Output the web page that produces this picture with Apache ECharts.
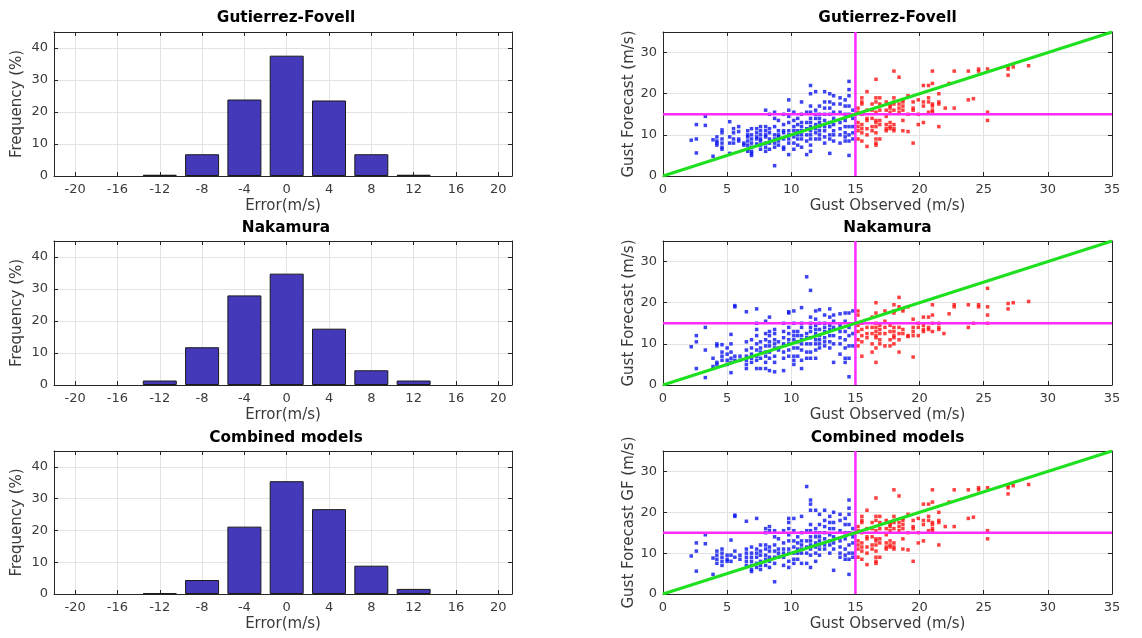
<!DOCTYPE html>
<html><head><meta charset="utf-8">
<script src="https://cdn.jsdelivr.net/npm/echarts@6/dist/echarts.min.js"></script>
<style>html,body{margin:0;padding:0;background:#fff}#c{width:1142px;height:638px}</style>
</head><body><div id="c"></div>
<script>
// ---------- data ----------
const errTicks = [-20,-16,-12,-8,-4,0,4,8,12,16,20];
const binCenters = [-12,-8,-4,0,4,8,12];
const gfFreq   = [0.4, 6.8, 23.9, 37.6, 23.6, 6.8, 0.4];
const nakFreq  = [1.4, 11.8, 28.0, 34.8, 17.6, 4.6, 1.4];
const combFreq = [0.3, 4.4, 21.2, 35.5, 26.7, 8.9, 1.6];
const panelTitles = ['Gutierrez-Fovell','Nakamura','Combined models'];
const scatterYNames = ['Gust Forecast (m/s)','Gust Forecast (m/s)','Gust Forecast GF (m/s)'];
const threshold = 15;
const oneToOne = [0, 35];

// scatter columns: [observed, [forecasts...]]
const gfBlue = [
 [2.2,[8.7]],[2.6,[12.5,9,5.6]],[3.3,[14.5,12.3]],[3.9,[8.8,4.8]],[4.2,[9.5,8.5,8,7.5]],
 [4.6,[11.2,10.5,9,8,7,6.5]],[5.2,[13.2,9.5,8,5.5]],[5.5,[11.5,10.5,9,8]],[5.9,[12,10.8,9,8.5]],
 [6.3,[8,7.5]],[6.6,[11,10,9.5,8.5,7.5,6.5,6]],[6.9,[11.5,10,9,8,7,6,5.5,5]],[7.3,[11.5,10.5,9.5,9,7.8]],
 [7.6,[12,11,10,9,8.5,7.5,6.5]],[8.0,[16,12,11,10,9.5,8,7,6]],[8.3,[15,11.5,10.5,9,8,6.5]],
 [8.7,[15.5,14,12,10,9,8,7,2.5]],[9.0,[13.5,11,10,9.5,8.5,7.5]],[9.4,[15,12.5,11,10.5,9,7,6.5]],
 [9.8,[18.5,16,14.5,13,11,10,9,8,5.2]],[10.2,[15.5,13.5,12,11,9.5,8,6.5]],[10.5,[14,12.5,11,10,9,7.5]],
 [10.8,[18,15,13,12,11,10,9,7]],[11.2,[15.5,13,11.5,10,8.5,5.2]],[11.5,[22,20,17,15.5,14,13,12,11,10,9,7.5,6]],
 [11.9,[20.5,16,15,14,12.5,11.5,10.5,9]],[12.2,[17,15,14,13,12,11,10,9]],[12.6,[20.5,18,16.5,15,13.5,12,11,9.5,8]],
 [13.0,[20,18,16.5,15,13,12,10,9,5.5]],[13.3,[19.5,17.5,15.5,14,12.5,11,10,8.5]],[13.8,[19,17.5,15.5,13,11.5,10,8]],
 [14.2,[18.5,17,15,13.5,12,10.5,9.5,8.5]],[14.5,[23,21,19.5,17,15,12,10,8.5,5]],[14.8,[16,14,12,10.5,9]]
];
const gfRed = [
 [15.2,[16.5,15.5,13,12,11,9]],[15.5,[19,18,17.5,15,12.5,11.5,10.5,8.5]],[15.9,[20.5,16,14,13.5,11.5,10,7.2]],
 [16.3,[17.5,16,14,12,11]],[16.6,[23.5,19,18,15.5,13.5,13,12,10.5,9,8,7.5]],[16.9,[19,17.5,16,13.5,12.5,9]],
 [17.4,[18,16,14.5,12.5,11.5,11]],[17.7,[17.5,17,16.5,15.5,13,12,11.5]],[18.0,[25.5,19,18,17.5,16,12.5,11.5,11]],
 [18.4,[24,17.5,16.5,15.5]],[18.7,[18.5,18,17,16,13.5,11]],[19.1,[19.5,15,10.8]],[19.5,[18,16.5,16,8]],
 [19.9,[18.5,15,12.5]],[20.3,[22,18,17,13]],[20.7,[22,19,18,15.5]],[21.0,[25.5,22.5,17.5,17,16,15.5]],
 [21.5,[20,18,17.5,12]],[22.0,[16.5]],[22.3,[22.5]],[22.7,[25.5,16.5]],[23.8,[25.5,18.5]],[24.2,[18.8]],
 [24.6,[26,25.5]],[25.3,[26,15.5,13.5]],[26.9,[26.5,26,24.5]],[27.3,[26.5]],[28.5,[26.8]]
];
const nakBlue = [
 [2.2,[9.3]],[2.6,[12,10.5,4]],[3.3,[14,8.5,1.8]],[3.9,[6.5,4.5]],[4.2,[10,9.5,5.5,5]],[4.6,[9.8,8,7,6]],
 [5.0,[9,7.5,6,5]],[5.3,[12.3,10,8,6.5,5.5,3]],[5.6,[19.3,19,7,6]],[6.0,[7,6]],[6.5,[17.8,10.5,8.5,7,6,5,4]],
 [6.9,[11,9,7.5,6.5,5.5]],[7.3,[18.5,15,13.5,12,10,8.5,7,6,4]],[7.6,[10.5,9,8,6.5,4]],[8.0,[15.5,12.5,11,9.5,8,7,5.5,4]],
 [8.3,[16.5,13,12,10.5,9.5,8,6.5,3.5]],[8.7,[13.5,12.5,11,10,9,7,5.5,3.2]],[9.0,[10.5,9,8.5]],
 [9.4,[15,13,11.5,10,8,6.5,3.5]],[9.8,[17.8,17.5,14,12.5,11,10,8.5,7]],[10.2,[18,15,13,12,11,9,7,6,5]],
 [10.5,[13,12,10.5,9,7]],[10.8,[18.8,15,14,12,11,10,8.5,6,4]],[11.2,[26.3,12.5,11.5,10,8,6.5]],
 [11.5,[23,16.5,15,14,13,11.5,10,8,6.5]],[11.9,[18,16,14.5,13.5,12.5,11,10,8.5,6.5]],[12.2,[18.3,15,13.5,12,11,10,9]],
 [12.6,[17,15,14,13,11.5,10.5,9.5]],[13.0,[18.5,16.5,14.5,13.5,12,10.5,9]],[13.3,[17,15.5,14,12,10,5.5]],
 [13.8,[17.3,14.5,13,11.5,10,7.5]],[14.2,[17.5,15.5,13,11,9,6.5,5.5]],[14.5,[17.5,14,12,9.5,6.5,2]],[14.8,[18,12.5,9.5]]
];
const nakRed = [
 [15.2,[18,17,14.5,13,11,9.5]],[15.5,[15,13.5,12,10.5,7]],[15.9,[14,12.5,11.5]],[16.3,[16.5,14,12.5,10,8]],
 [16.6,[20,17.5,15,14,13,12,11.5,9,5.5]],[16.9,[14.5,13.5,12.5,11,10]],[17.3,[18,15.5,14,12.5,9.5]],
 [17.7,[14.5,13,11,9.5]],[18.0,[19.5,18,17.5,14,13,12,11.5,10]],[18.4,[21.3,19,14,12.5,11,8]],
 [18.7,[18.5,18,13.5,12.5]],[19.1,[19,12,11.8]],[19.5,[16,14,13,12,6.8]],[19.9,[15,14,12]],
 [20.3,[16.5,14.5,13.5,13]],[20.7,[16.5,14,13.5]],[21.0,[19.5,17,15,13]],[21.5,[15,14,13.5]],[21.9,[12.5]],
 [22.3,[17.3]],[22.7,[19.5,19]],[23.8,[19.5,14]],[24.2,[15]],[24.6,[19.5,19]],[25.3,[23.5,19,17,15]],
 [26.9,[19.8,18.5]],[27.3,[20]],[28.5,[20.3]]
];
const combBlue = [
 [2.2,[9.3]],[2.6,[12.5,10.5,5.6]],[3.3,[14.5,12.3]],[3.9,[8.8,4.8]],[4.2,[10.5,9.5,8.5,7.5]],[4.6,[11,10,9,8,7]],
 [5.0,[9.5,8.5,8]],[5.3,[13.2,9.5,8]],[5.6,[19.3,19,10.5,9]],[6.0,[9.5,8.5]],[6.5,[17.8,11,10,9,8,7]],
 [6.9,[11.5,10,9,8,7,6,5.5]],[7.3,[18.5,11,10,9,7.5,6.5]],[7.6,[12,10.5,9.5,8,7,6]],[8.0,[16,15,12,11,9.5,8.5,7]],
 [8.3,[16.5,15.5,11.5,10.5,9,8,6.5]],[8.7,[15.5,14,12,10.5,9,7.5,3]],[9.0,[13.5,11,10,9]],[9.4,[15.5,12.5,11,10,9,7]],
 [9.8,[18.5,17.5,16,14.5,13,11,10,8,6.5]],[10.2,[18.5,15.5,13,11.5,10,8.5,7.5]],[10.5,[14,12.5,11,10,8.5]],
 [10.8,[19,15,13,12,11,10,7.5]],[11.2,[26.3,15.5,13,11.5,10,7.5]],[11.5,[23,22,20.5,17,15.5,14,13,12,11,9.5,6.5]],
 [11.9,[20.5,16,15,14,12.5,11.5,10,8]],[12.2,[19.5,17,15,14,13,12,11,9.5]],[12.6,[20.5,18,16.5,15,13.5,12,11]],
 [13.0,[19,17.5,16,14.5,13,12,10]],[13.3,[20,17.5,16,14,12.5,11,5.8]],[13.8,[19.5,18,15.5,13,11.5,10,9]],
 [14.2,[18.5,17,15,13.5,11,9.5,8.5]],[14.5,[23,21,19.5,17,15,12,10,8.5,4.8]],[14.8,[16,14,12.5,10,9]]
];
const combRed = gfRed;

const histFreqs = [gfFreq, nakFreq, combFreq];
const scatterBlue = [gfBlue, nakBlue, combBlue];
const scatterRed = [gfRed, nakRed, combRed];

// ---------- build ----------
const pts = cols => cols.flatMap(([x, ys]) => ys.map(y => [x, y]));
const rowTop = [32, 241, 451];
const rowH = [144, 144, 143];
const titleY = [18.5, 228, 438];
const L = {left: 54, width: 458}, R = {left: 663, width: 449};
const TXT = '#3a3a3a', AX = '#262626', GRID = '#e3e3e3';
const FONT = 'DejaVu Sans';
const tickStyle = extra => Object.assign({show:true,inside:true,length:4,lineStyle:{color:AX}}, extra || {});

const grid = [], xAxis = [], yAxis = [], series = [], graphic = [];
function axisPair(gi, xcfg, ycfg) {
  const common = {axisLine:{show:true,onZero:false,lineStyle:{color:AX,width:1}}, axisTick:tickStyle()};
  xAxis.push(Object.assign({gridIndex:gi, type:'value', position:'bottom',
    axisLabel:{color:TXT,fontSize:13,fontFamily:FONT,margin:7},
    splitLine:{show:true,lineStyle:{color:GRID}},
    nameLocation:'middle', nameTextStyle:{color:TXT,fontSize:15,fontFamily:FONT}}, common, xcfg.main));
  xAxis.push(Object.assign({gridIndex:gi, type:'value', position:'top', axisLabel:{show:false}, splitLine:{show:false}}, common, xcfg.top));
  yAxis.push(Object.assign({gridIndex:gi, type:'value', position:'left',
    axisLabel:{color:TXT,fontSize:13,fontFamily:FONT,margin:6,showMaxLabel:false},
    splitLine:{show:true,lineStyle:{color:GRID}},
    nameLocation:'middle', nameRotate:90, nameTextStyle:{color:TXT,fontSize:15,fontFamily:FONT}}, common, ycfg.main));
  yAxis.push(Object.assign({gridIndex:gi, type:'value', position:'right', axisLabel:{show:false}, splitLine:{show:false}}, common, ycfg.top));
}

for (let r = 0; r < 3; r++) {
  // histogram
  let gi = grid.length;
  grid.push({left:L.left, width:L.width, top:rowTop[r], height:rowH[r]});
  const hx = {min:-22, max:21.3};
  axisPair(gi,
    {main:Object.assign({}, hx, {name:'Error(m/s)', nameGap:23,
       axisTick:tickStyle({customValues:errTicks}),
       axisLabel:{color:TXT,fontSize:13,fontFamily:FONT,margin:7,customValues:errTicks}}),
     top:Object.assign({}, hx, {axisTick:tickStyle({customValues:errTicks})})},
    {main:{min:0,max:45,interval:10,name:'Frequency (%)',nameGap:29}, top:{min:0,max:45,interval:10}});
  series.push({type:'bar', xAxisIndex:2*gi, yAxisIndex:2*gi, barWidth:34,
    data: binCenters.map((c, j) => [c, histFreqs[r][j]]),
    itemStyle:{color:'#4439b8', borderColor:'#1a1a1a', borderWidth:1}});
  graphic.push({type:'text', x:L.left + L.width/2 + 3, y:titleY[r], style:{text:panelTitles[r], fontSize:15.3, fontWeight:'bold', fontFamily:FONT, fill:'#000', align:'center', verticalAlign:'middle'}});

  // scatter
  gi = grid.length;
  grid.push({left:R.left, width:R.width, top:rowTop[r], height:rowH[r]});
  axisPair(gi,
    {main:{min:0,max:35,interval:5,name:'Gust Observed (m/s)',nameGap:23}, top:{min:0,max:35,interval:5}},
    {main:{min:0,max:35,interval:10,name:scatterYNames[r],nameGap:26}, top:{min:0,max:35,interval:10}});
  const xi = 2*gi, yi = 2*gi;
  series.push({type:'scatter', xAxisIndex:xi, yAxisIndex:yi, symbol:'rect', symbolSize:3.5, data:pts(scatterBlue[r]), itemStyle:{color:'#0a14f0'}, z:2});
  series.push({type:'scatter', xAxisIndex:xi, yAxisIndex:yi, symbol:'rect', symbolSize:3.5, data:pts(scatterRed[r]), itemStyle:{color:'#ff1010'}, z:2});
  series.push({type:'line', xAxisIndex:xi, yAxisIndex:yi, symbol:'none', data:oneToOne.map(v => [threshold, v]), lineStyle:{color:'#ff2bff', width:2.5}, z:3});
  series.push({type:'line', xAxisIndex:xi, yAxisIndex:yi, symbol:'none', data:oneToOne.map(v => [v, threshold]), lineStyle:{color:'#ff2bff', width:2.5}, z:3});
  series.push({type:'line', xAxisIndex:xi, yAxisIndex:yi, symbol:'none', data:oneToOne.map(v => [v, v]), lineStyle:{color:'#1ee01e', width:3}, z:4});
  graphic.push({type:'text', x:R.left + R.width/2, y:titleY[r], style:{text:panelTitles[r], fontSize:15.3, fontWeight:'bold', fontFamily:FONT, fill:'#000', align:'center', verticalAlign:'middle'}});
}

const chart = echarts.init(document.getElementById('c'), null, {renderer:'canvas'});
chart.setOption({animation:false, backgroundColor:'#fff', grid, xAxis, yAxis, series, graphic});
</script></body></html>
